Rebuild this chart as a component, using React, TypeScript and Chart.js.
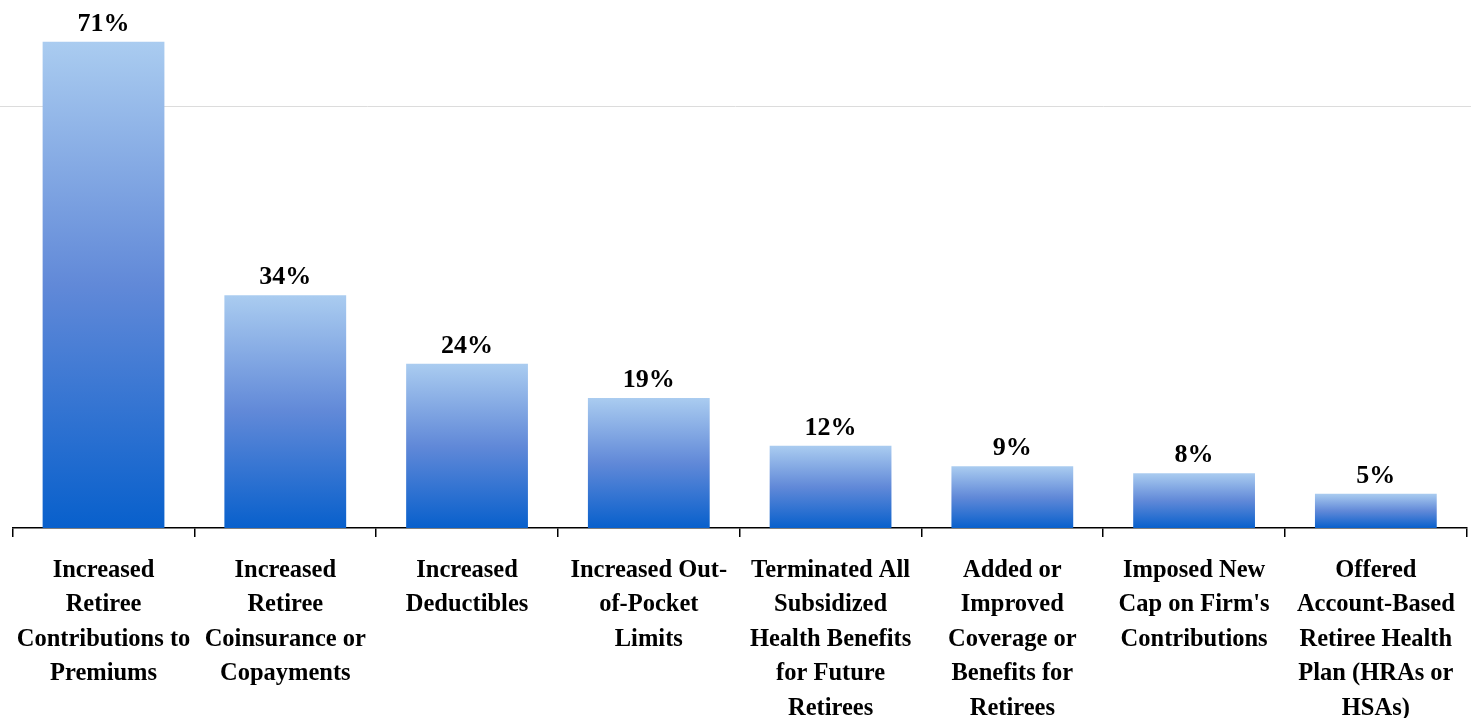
import React, { useEffect, useRef } from "react";
import { Chart, registerables } from "chart.js";

Chart.register(...registerables);

const categories: string[][] = [
  ["Increased", "Retiree", "Contributions to", "Premiums"],
  ["Increased", "Retiree", "Coinsurance or", "Copayments"],
  ["Increased", "Deductibles"],
  ["Increased Out-", "of-Pocket", "Limits"],
  ["Terminated All", "Subsidized", "Health Benefits", "for Future", "Retirees"],
  ["Added or", "Improved", "Coverage or", "Benefits for", "Retirees"],
  ["Imposed New", "Cap on Firm's", "Contributions"],
  ["Offered", "Account-Based", "Retiree Health", "Plan (HRAs or", "HSAs)"],
];

const percentages: number[] = [71, 34, 24, 19, 12, 9, 8, 5];

// faint horizontal guide line, in axis units
const guideLineValue = 61.65;

const FONT_FAMILY = "'Liberation Serif', 'Times New Roman', serif";

const valueLabels = {
  id: "valueLabels",
  afterDatasetsDraw(chart: Chart) {
    const { ctx } = chart;
    const meta = chart.getDatasetMeta(0);
    ctx.save();
    ctx.font = `bold 26px ${FONT_FAMILY}`;
    ctx.fillStyle = "#000";
    ctx.textAlign = "center";
    ctx.textBaseline = "alphabetic";
    meta.data.forEach((bar: any, i: number) => {
      ctx.fillText(`${percentages[i]}%`, bar.x, bar.y - 11);
    });
    ctx.restore();
  },
};

const guideLine = {
  id: "guideLine",
  beforeDatasetsDraw(chart: Chart) {
    const { ctx } = chart;
    const y = Math.round(chart.scales.y.getPixelForValue(guideLineValue)) + 0.5;
    ctx.save();
    ctx.strokeStyle = "#DCDCDC";
    ctx.lineWidth = 1;
    ctx.beginPath();
    ctx.moveTo(0, y);
    ctx.lineTo(chart.width, y);
    ctx.stroke();
    ctx.restore();
  },
};

export default function App() {
  const canvasRef = useRef<HTMLCanvasElement | null>(null);

  useEffect(() => {
    document.body.style.margin = "0";
    const canvas = canvasRef.current;
    if (!canvas) return;

    const chart = new Chart(canvas, {
      type: "bar",
      data: {
        labels: categories,
        datasets: [
          {
            data: percentages,
            backgroundColor: (c: any) => {
              const ch = c.chart;
              const yScale = ch.scales?.y;
              if (!ch.chartArea || !yScale || c.raw == null) return "#5C85D6";
              const top = yScale.getPixelForValue(c.raw);
              const bottom = yScale.getPixelForValue(0);
              const g = ch.ctx.createLinearGradient(0, top, 0, bottom);
              g.addColorStop(0, "#AACCF0");
              g.addColorStop(0.5, "#6189D8");
              g.addColorStop(1, "#0860CC");
              return g;
            },
            borderWidth: 0,
            categoryPercentage: 1,
            barPercentage: 0.67,
          },
        ],
      },
      options: {
        animation: false,
        responsive: true,
        maintainAspectRatio: false,
        layout: { padding: { left: 12, right: 4, top: 0, bottom: 0 } },
        plugins: {
          legend: { display: false },
          tooltip: { enabled: false },
        },
        scales: {
          x: {
            offset: true,
            grid: {
              display: true,
              offset: true,
              drawOnChartArea: false,
              drawTicks: true,
              tickLength: 9,
              color: "#000",
              lineWidth: 1.5,
            },
            border: { display: true, color: "#000", width: 1.5 },
            ticks: {
              autoSkip: false,
              maxRotation: 0,
              minRotation: 0,
              padding: 16,
              color: "#000",
              font: { family: FONT_FAMILY, size: 24.5, weight: "bold", lineHeight: 1.41 },
            },
            afterFit: (scale: any) => {
              scale.height = 190;
            },
          },
          y: {
            display: false,
            min: 0,
            max: 77.1,
          },
        },
      },
      plugins: [guideLine, valueLabels],
    });

    return () => chart.destroy();
  }, []);

  return (
    <div style={{ position: "relative", width: "1471px", height: "718px" }}>
      <canvas ref={canvasRef} />
    </div>
  );
}
